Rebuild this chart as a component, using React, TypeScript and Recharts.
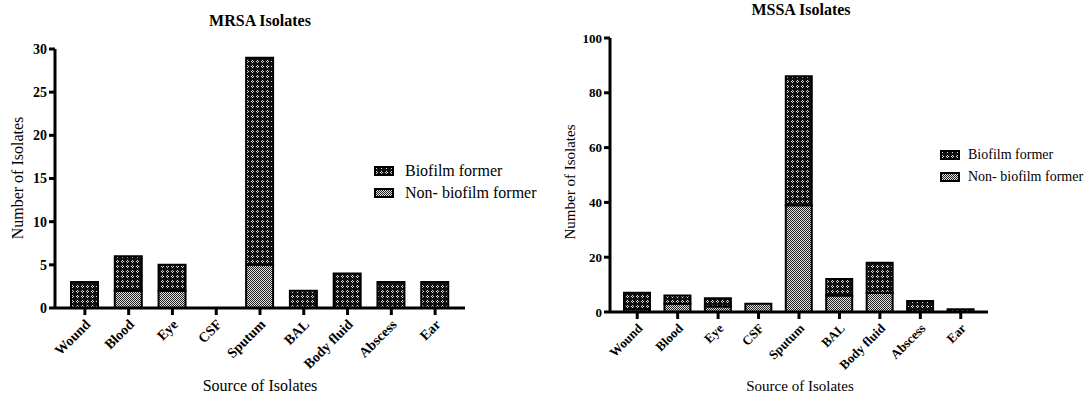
import React from 'react';
import { BarChart, Bar, XAxis, YAxis } from 'recharts';

const categories = ['Wound', 'Blood', 'Eye', 'CSF', 'Sputum', 'BAL', 'Body fluid', 'Abscess', 'Ear'];

const mrsaNonBiofilm = [0, 2, 2, 0, 5, 0, 0, 0, 0];
const mrsaBiofilm = [3, 4, 3, 0, 24, 2, 4, 3, 3];

const mssaNonBiofilm = [1, 3, 2, 3, 39, 6, 7, 0, 0];
const mssaBiofilm = [6, 3, 3, 0, 47, 6, 11, 4, 1];

const mrsaTicks = [0, 5, 10, 15, 20, 25, 30];
const mssaTicks = [0, 20, 40, 60, 80, 100];

const seriesNames = ['Biofilm former', 'Non- biofilm former'];

const FONT = '"Liberation Serif", "Times New Roman", serif';

const mrsaData = categories.map((name, i) => ({
  name,
  non: mrsaNonBiofilm[i],
  bio: mrsaBiofilm[i],
}));

const mssaData = categories.map((name, i) => ({
  name,
  non: mssaNonBiofilm[i],
  bio: mssaBiofilm[i],
}));

function makeTick(size: number) {
  return function SlantTick(props: any) {
    const { x, y, payload } = props;
    return (
      <g transform={`translate(${x + 4},${y + 6})`}>
        <text
          x={0}
          y={0}
          transform="rotate(-45)"
          textAnchor="end"
          dominantBaseline="middle"
          fontFamily={FONT}
          fontWeight="bold"
          fontSize={size}
          fill="#000"
        >
          {payload.value}
        </text>
      </g>
    );
  };
}

const TickLeft = makeTick(14);
const TickRight = makeTick(13);

function Patterns() {
  return (
    <svg width={0} height={0} style={{ position: 'absolute' }}>
      <defs>
        <pattern id="bioPat" width="5" height="5" patternUnits="userSpaceOnUse">
          <rect width="5" height="5" fill="#111" />
          <rect x="2" y="0" width="1" height="1" fill="#ddd" />
          <rect x="1" y="1" width="1" height="1" fill="#ddd" />
          <rect x="3" y="1" width="1" height="1" fill="#ddd" />
          <rect x="2" y="2" width="1" height="1" fill="#ddd" />
        </pattern>
        <pattern id="nonPat" width="2" height="2" patternUnits="userSpaceOnUse">
          <rect width="2" height="2" fill="#e0e0e0" />
          <rect x="0" y="0" width="1" height="1" fill="#222" />
          <rect x="1" y="1" width="1" height="1" fill="#222" />
        </pattern>
      </defs>
    </svg>
  );
}

function LegendBox({ left, top, size, gap }: { left: number; top: number; size: number; gap: number }) {
  const fills = ['url(#bioPat)', 'url(#nonPat)'];
  return (
    <div style={{ position: 'absolute', left, top, fontFamily: FONT, fontSize: size, whiteSpace: 'nowrap' }}>
      {seriesNames.map((s, i) => (
        <div key={s} style={{ display: 'flex', alignItems: 'center', height: 22 }}>
          <svg width={20} height={10} style={{ marginRight: gap, flexShrink: 0 }}>
            <rect x={1} y={1} width={18} height={8} fill={fills[i]} stroke="#000" strokeWidth={2} />
          </svg>
          <span>{s}</span>
        </div>
      ))}
    </div>
  );
}

function Panel(props: {
  data: any[];
  ticks: number[];
  max: number;
  width: number;
  margin: any;
  pad: number;
  barSize: number;
  tick: any;
  yFont: number;
}) {
  const { data, ticks, max, width, margin, pad, barSize, tick, yFont } = props;
  const TickComp = tick;
  return (
    <BarChart width={width} height={399} data={data} margin={margin} barSize={barSize}>
      <XAxis
        dataKey="name"
        interval={0}
        height={60}
        padding={{ left: pad, right: pad }}
        axisLine={{ stroke: '#000', strokeWidth: 3 }}
        tickLine={{ stroke: '#000', strokeWidth: 3 }}
        tickSize={7}
        tick={<TickComp />}
      />
      <YAxis
        domain={[0, max]}
        ticks={ticks}
        width={45}
        axisLine={{ stroke: '#000', strokeWidth: 3 }}
        tickLine={{ stroke: '#000', strokeWidth: 3 }}
        tickSize={6}
        tick={{ fill: '#000', fontFamily: FONT, fontWeight: 'bold', fontSize: yFont }}
      />
      <Bar dataKey="non" stackId="a" fill="url(#nonPat)" stroke="#000" strokeWidth={2} isAnimationActive={false} />
      <Bar dataKey="bio" stackId="a" fill="url(#bioPat)" stroke="#000" strokeWidth={2} isAnimationActive={false} />
    </BarChart>
  );
}

const labelStyle: React.CSSProperties = {
  position: 'absolute',
  fontFamily: FONT,
  fontSize: 16,
  whiteSpace: 'nowrap',
};

export default function App() {
  return (
    <div style={{ position: 'absolute', left: 0, top: 0, width: 1085, height: 399, background: '#fff', overflow: 'hidden' }}>
      <Patterns />
      <div style={{ position: 'absolute', left: 0, top: 0 }}>
        <Panel
          data={mrsaData}
          ticks={mrsaTicks}
          max={30}
          width={480}
          margin={{ top: 49, right: 15, left: 10, bottom: 31 }}
          pad={8}
          barSize={27}
          tick={TickLeft}
          yFont={14}
        />
      </div>
      <div style={{ position: 'absolute', left: 540, top: 0 }}>
        <Panel
          data={mssaData}
          ticks={mssaTicks}
          max={100}
          width={460}
          margin={{ top: 38, right: 12, left: 25, bottom: 27 }}
          pad={7}
          barSize={26}
          tick={TickRight}
          yFont={13}
        />
      </div>

      <div style={{ ...labelStyle, left: 260, top: 12, transform: 'translateX(-50%)', fontWeight: 'bold' }}>
        MRSA Isolates
      </div>
      <div style={{ ...labelStyle, left: 801, top: 1, transform: 'translateX(-50%)', fontWeight: 'bold' }}>
        MSSA Isolates
      </div>

      <div style={{ ...labelStyle, left: 18, top: 178, transform: 'translate(-50%,-50%) rotate(-90deg)' }}>
        Number of Isolates
      </div>
      <div style={{ ...labelStyle, fontSize: 15, left: 570, top: 182, transform: 'translate(-50%,-50%) rotate(-90deg)' }}>
        Number of Isolates
      </div>

      <div style={{ ...labelStyle, left: 260, top: 377, transform: 'translateX(-50%)' }}>Source of Isolates</div>
      <div style={{ ...labelStyle, fontSize: 15, left: 800, top: 378, transform: 'translateX(-50%)' }}>
        Source of Isolates
      </div>

      <LegendBox left={374} top={160} size={16} gap={11} />
      <LegendBox left={940} top={144} size={14} gap={8} />
    </div>
  );
}
